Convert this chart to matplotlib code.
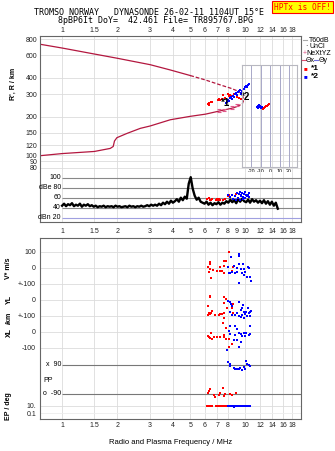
import numpy as np
import matplotlib
matplotlib.use("Agg")
import matplotlib.pyplot as plt
from matplotlib.lines import Line2D

W, H = 335, 451
plt.rcParams['font.family'] = ['Liberation Sans', 'DejaVu Sans']
plt.rcParams['axes.unicode_minus'] = False

freq_ticks = [1, 1.5, 2, 3, 4, 5, 6, 7, 8, 10, 12, 14, 16, 18]
freq_ticks_mid = [1, 1.5, 2, 3, 4, 5, 6, 7, 8, 9, 10, 12, 14, 16, 18]
range_ticks = [80, 90, 100, 120, 150, 200, 300, 400, 600, 800]

# model trace (MHz, km)
model_lo_f = [0.75, 1.0, 1.5, 1.83, 1.9, 1.93, 1.99, 2.26, 2.67, 3.02, 3.89, 5.0, 6.05, 7.3, 8.6, 9.0]
model_lo_r = [99, 103, 107, 113, 117, 129, 137, 148, 162, 169, 189, 201, 209, 222, 234, 240]
model_up_f = [0.75, 1.0, 1.5, 2.0, 3.02, 3.89, 5.0]
model_up_r = [735, 685, 615, 570, 508, 462, 418]
model_nose_f = [5.0, 6.05, 7.3, 8.3, 9.0, 9.6, 9.7, 9.75, 9.6, 9.0]
model_nose_r = [418, 386, 353, 333, 318, 300, 283, 266, 251, 240]
nextyz_f = [7.15, 7.6, 8.4, 9.0]
nextyz_r = [222, 225, 236, 246]

# echoes in range
r1_f = [6.25, 6.3, 6.35, 6.45, 6.55, 7.1, 7.2, 7.3, 7.4, 7.55, 7.7, 8.0, 8.1, 8.25, 8.4, 8.7, 9.0, 9.2, 9.4]
r1_r = [250, 256, 248, 260, 262, 268, 274, 270, 276, 294, 280, 300, 292, 297, 288, 300, 286, 280, 272]
r2_f = [7.8, 7.9, 8.0, 8.1, 8.2, 8.3, 8.4, 8.6, 8.7, 8.8, 8.9, 9.0, 9.1, 9.2, 9.3, 9.4, 9.5, 9.6,
        9.8, 10.0, 10.1, 10.2, 10.3, 10.5]
r2_r = [255, 262, 270, 265, 278, 285, 275, 290, 285, 298, 305, 295, 312, 318, 322, 308, 300, 315,
        330, 338, 345, 340, 350, 358]

# tilt inset
tilt1 = [-8, -6, -5, -4, -3, -2, -1]
tilt1_r = [228, 232, 235, 238, 241, 244, 247]
tilt2 = [-14, -13, -13, -12, -12, -11, -10, -9]
tilt2_r = [236, 230, 242, 234, 246, 238, 232, 236]

# amplitude (dB), sounding from 1 to 15 MHz
amp_db = [44, 48, 43, 47, 45, 49, 43, 46, 44, 48, 42, 46, 44, 47, 43, 45,
          42, 44, 41, 43, 42, 44, 41, 43, 42, 43, 41, 44, 42, 43, 41, 42,
          43, 41, 44, 42, 43, 41, 43, 42, 44, 42, 43, 45, 43, 46, 44,
          46, 44, 48, 45, 50, 47, 52, 48, 54, 50,
          53, 57, 52, 60, 55, 62, 58,
          88, 101, 78,
          64, 56, 60, 52, 50,
          48, 52, 46, 50, 45, 49, 47, 51, 46, 50, 48, 53,
          50, 56, 51, 55, 49, 57, 52, 58, 53,
          51, 56, 50, 57, 52, 55, 50,
          54, 49, 55, 48, 53, 46, 52, 44, 50, 38]
amp1_f = [6.2, 6.3, 6.4, 6.5, 6.6, 6.9, 7.0, 7.1, 7.2, 7.3, 7.5, 7.7, 8.0, 8.1, 8.6, 8.9]
amp1_db = [57, 59, 56, 55, 57, 55, 58, 56, 57, 55, 56, 57, 63, 66, 58, 67]
amp2_f = [8.0, 8.2, 8.4, 8.6, 8.8, 9.0, 9.1, 9.2, 9.3, 9.4, 9.5, 9.6, 9.7, 9.8, 9.9, 10.0,
          10.1, 10.2, 10.4, 10.5, 8.9, 9.3, 9.7, 10.3]
amp2_db = [66, 62, 65, 58, 64, 70, 60, 68, 72, 64, 66, 70, 62, 68, 72, 60,
           66, 64, 70, 62, 56, 56, 58, 66]

# V* (m/s)
v1_f = [8.11, 6.44, 6.44, 6.22, 6.37, 6.66, 6.30, 7.0, 7.24, 7.46, 7.24, 7.61, 7.78, 7.68, 7.68,
        6.5, 8.57, 8.39, 8.11, 8.46]
v1 = [102, 40, 25, 8, -8, -12, -27, -17, -17, -17, 4, 46, 46, 12, -33, -60, 8, -23, -33, -17]
v2_f = [9.2, 9.2, 8.35, 8.0, 8.64, 9.2, 9.71, 10.3, 9.87, 9.47, 8.94, 8.46, 8.11, 8.82, 9.79,
        10.21, 10.56, 10.65, 9.2, 10.0, 10.43, 9.59, 9.0, 8.28]
v2 = [88, 75, 67, 8, 12, 23, 23, 8, -8, -8, -23, -27, -33, -33, -44, -54, -58, -79, -96, -23,
      -2, -33, -2, -33]
# YL (km)
yl1_f = [6.44, 6.37, 7.68, 7.78, 6.22, 6.58, 6.5, 6.44, 6.30, 7.24, 7.46, 7.68, 6.86, 7.15,
         7.61, 6.22, 7.94, 8.46, 8.57, 7.68, 8.57]
yl1 = [25, 17, 21, 4, -37, -67, -79, -87, -83, -87, -87, -83, -94, -94, -115, -94, -52, -52,
       -83, -17, -25]
yl2_f = [8.0, 8.21, 8.35, 8.46, 9.2, 9.47, 9.79, 10.12, 10.43, 10.56, 10.0, 9.59, 9.2, 8.82,
         8.46, 8.28, 9.71, 9.59, 10.21, 10.56, 9.0, 9.47, 9.87, 10.65, 10.3]
yl2 = [-4, -10, -25, -37, -10, -62, -73, -73, -79, -73, -87, -94, -100, -94, -94, -73, -31,
       -52, -100, -100, -79, -108, -115, -67, -52]
# XL (km)
xl1_f = [6.5, 6.22, 6.37, 6.58, 6.30, 7.0, 7.24, 7.61, 7.68, 7.78, 8.11, 7.55, 7.78, 8.11, 8.46,
         6.71]
xl1 = [-4, -25, -40, -46, -33, -33, -33, -29, -19, -46, -46, 54, 23, -96, -75, -29]
xl2_f = [8.28, 8.11, 8.21, 8.82, 8.94, 9.2, 9.47, 9.79, 10.12, 10.43, 10.56, 9.59, 10.0, 9.0,
         8.64, 9.47, 9.2, 7.94, 8.82, 10.56]
xl2 = [38, 8, -12, 38, 17, -4, -12, -8, -8, -19, -12, -25, -25, -50, -50, -60, -96, -112, -19,
       38]
# PP (deg)
pp1_f = [6.27, 6.32, 6.4, 6.71, 6.85, 7.15, 7.3, 7.55, 7.65, 7.75, 8.27, 8.45, 8.9]
pp1 = [-89, -73, -64, -99, -110, -99, -89, -58, -106, -95, -93, -99, -85]
pp2_f = [8.05, 8.2, 8.27, 8.63, 8.8, 9.0, 9.2, 9.39, 9.6, 9.8, 10.0, 10.1, 10.2, 10.45, 10.55]
pp2 = [107, 93, 80, 66, 59, 62, 59, 66, 56, 75, 62, 112, 93, 87, 78]
# EP (deg)
ep1_f = [6.2, 6.25, 6.3, 6.4, 6.45, 6.5, 6.6, 6.9, 7.0, 7.1, 7.2, 7.35, 7.5, 7.7, 7.9, 8.0]
ep1 = [11, 9, 12, 10, 11, 9, 10, 9, 11, 13, 10, 11, 12, 11, 10, 11]
ep2_f = [8.0, 8.2, 8.4, 8.5, 8.6, 8.7, 8.8, 8.9, 9.0, 9.1, 9.2, 9.3, 9.4, 9.5, 9.6, 9.7, 9.8,
         9.9, 10.0, 10.1, 10.2, 10.3, 10.4, 10.5, 10.6]
ep2 = [10, 11, 9, 8, 10, 7, 9, 11, 10, 8, 9, 12, 10, 9, 11, 10, 13, 9, 10, 11, 9, 12, 10, 11, 13]

RED, BLUE = '#ff0000', '#0000ff'
CURVE = '#b3173f'
GRID = '#dcdcdc'
FRAME = '#666666'
XLIM = (0.753, 20.2)
FS = 5


def box(x0, y0, x1, y1):
    return [x0 / W, 1 - y1 / H, (x1 - x0) / W, (y1 - y0) / H]


def style(a):
    a.set_xscale('log')
    a.set_xlim(*XLIM)
    a.minorticks_off()
    a.tick_params(length=0, labelsize=FS, colors='#222222')
    for s in a.spines.values():
        s.set_color(FRAME)
        s.set_linewidth(0.8)


def dots(a, x, y, c, s=3.2):
    a.scatter(x, y, s=s, marker='s', c=c, linewidths=0, zorder=4)


fig = plt.figure(figsize=(W / 100, H / 100), dpi=100)

# --- range panel
ax = fig.add_axes(box(39.5, 36, 301.5, 172))
style(ax)
ax.set_yscale('log')
ax.set_ylim(74, 850)
ax.minorticks_off()
ax.set_yticks(range_ticks)
ax.set_yticklabels([str(t) for t in range_ticks])
ax.xaxis.tick_top()
ax.set_xticks(freq_ticks)
ax.set_xticklabels([f'{t:g}' for t in freq_ticks])
ax.tick_params(pad=1.5)
ax.grid(True, color=GRID, lw=0.6)
ax.spines['bottom'].set_visible(False)
ax.plot(model_lo_f, model_lo_r, color=CURVE, lw=0.9)
ax.plot(model_up_f, model_up_r, color=CURVE, lw=0.9)
ax.plot(model_nose_f, model_nose_r, color=CURVE, lw=0.9, ls=(0, (3, 1.5)))
ax.errorbar(nextyz_f, nextyz_r, yerr=[np.array(nextyz_r) * 0.025, np.array(nextyz_r) * 0.025],
            fmt='none', ecolor='#e0588a', elinewidth=0.8, capsize=1.2, capthick=0.8)
dots(ax, r1_f, r1_r, RED, 4.5)
dots(ax, r2_f, r2_r, BLUE, 4.5)
ax.text(7.3, 257, '*1', fontsize=7, fontweight='bold', va='center', zorder=5)
ax.text(9.4, 284, '*2', fontsize=7, fontweight='bold', va='center', zorder=5)
fig.text(13 / W, 1 - 84 / H, "R', R / km", rotation=90, fontsize=FS, fontweight='bold',
         ha='center', va='center')

# --- tilt inset
ins = fig.add_axes(box(241.7, 65, 296.7, 167.3))
ins.set_facecolor('none')
ins.set_xlim(-30, 28)
ins.set_yscale('log')
ins.set_ylim(80, 500)
ins.minorticks_off()
ins.set_yticks([])
ins.set_xticks([-20, -10, 0, 10, 20])
ins.tick_params(length=0, labelsize=3.8, pad=1)
for t in [-20, -10, 0, 10, 20]:
    ins.axvline(t, color='#a8a8c8', lw=0.7)
for s in ins.spines.values():
    s.set_color('#b8b8c0')
    s.set_linewidth(0.8)
ins.set_xlabel('Tilt / deg', fontsize=3.8, labelpad=0)
dots(ins, tilt2, tilt2_r, BLUE, 4)
dots(ins, tilt1, tilt1_r, RED, 4)

# --- amplitude panel
amp = fig.add_axes(box(39.5, 172, 301.5, 222))
style(amp)
amp.set_ylim(11.4, 111.4)
amp.set_yticks([])
amp.set_xticks(freq_ticks_mid)
amp.set_xticklabels([f'{t:g}' for t in freq_ticks_mid])
amp.tick_params(pad=4)
amp.spines['top'].set_visible(False)
for t in freq_ticks:
    amp.axvline(t, color=GRID, lw=0.6, zorder=0)
for lvl, lab in [(100, '100'), (80, 'dBe 80'), (60, '60'), (40, '40')]:
    amp.hlines(lvl, 1.0, XLIM[1], color='#888888', lw=0.8, zorder=1)
    amp.text(0.082, lvl, lab, transform=amp.get_yaxis_transform(), ha='right', va='center',
             fontsize=FS)
amp.hlines(20, 1.0, XLIM[1], color='#a0a0e0', lw=0.8, zorder=1)
amp.text(0.082, 20, 'dBn 20', transform=amp.get_yaxis_transform(), ha='right', va='center',
         fontsize=FS)
amp_f = np.geomspace(1.0, 15.0, len(amp_db))
amp.plot(amp_f, amp_db, color='black', lw=1.7, zorder=3)
dots(amp, amp1_f, amp1_db, RED)
dots(amp, amp2_f, amp2_db, BLUE)

# --- wave-vector panel
low = fig.add_axes(box(39.5, 238, 301.5, 419))
style(low)
low.set_ylim(0, 181 / 16)
low.set_xticks(freq_ticks)
low.set_xticklabels([f'{t:g}' for t in freq_ticks])
low.tick_params(pad=2)
for t in freq_ticks:
    low.axvline(t, color=GRID, lw=0.6, zorder=0)

V0, YL0, XL0 = 9.4375, 7.4375, 5.4375


def pp_u(p):
    return 3.406 - (90 - np.asarray(p)) * 0.01007


def ep_u(e):
    return (13 + 3.5 * np.log10(np.asarray(e) / 10)) / 16


rows = [V0 + 1, V0, YL0 + 1, YL0, XL0 + 1, XL0, XL0 - 1]
for u in rows:
    low.axhline(u, color=GRID, lw=0.6, zorder=0)
low.axhline(float(ep_u(10)), color=GRID, lw=0.6, zorder=0)
low.axhline(float(ep_u(0.1)), color='#ececec', lw=0.6, zorder=0)
low.hlines([float(pp_u(90)), float(pp_u(-90))], 1.0, XLIM[1], color='#777777', lw=0.8, zorder=1)
low.set_yticks(rows + [float(ep_u(10)), float(ep_u(0.1))])
low.set_yticklabels(['100', '0', '+-100', '0', '+-100', '0', '-100', '10.', '0.1'])
low.tick_params(axis='y', pad=2.5)
ytr = low.get_yaxis_transform()
low.text(0.082, float(pp_u(90)), 'x  90', transform=ytr, ha='right', va='center', fontsize=FS)
low.text(0.082, float(pp_u(-90)), 'o  -90', transform=ytr, ha='right', va='center', fontsize=FS)
low.text(0.013, float(pp_u(0)) - 0.1, 'PP', transform=ytr, ha='left', va='center', fontsize=FS)

dots(low, v1_f, V0 + np.array(v1) / 100, RED)
dots(low, v2_f, V0 + np.array(v2) / 100, BLUE)
dots(low, yl1_f, YL0 + np.array(yl1) / 100, RED)
dots(low, yl2_f, YL0 + np.array(yl2) / 100, BLUE)
dots(low, xl1_f, XL0 + np.array(xl1) / 100, RED)
dots(low, xl2_f, XL0 + np.array(xl2) / 100, BLUE)
dots(low, pp1_f, pp_u(pp1), RED)
dots(low, pp2_f, pp_u(pp2), BLUE)
dots(low, ep1_f, ep_u(ep1), RED)
dots(low, ep2_f, ep_u(ep2), BLUE)
low.set_xlabel('Radio and Plasma Frequency / MHz', fontsize=FS + 0.5, labelpad=7)

for txt, yc in [('V* m/s', 268), ('YL', 300), ('/km', 318), ('XL', 333), ('EP / deg', 406)]:
    fig.text(9 / W, 1 - yc / H, txt, rotation=90, fontsize=FS, fontweight='bold',
             ha='center', va='center')

# --- legend (outside right)
LFS = 5


def leg_line(x0, x1, yc, col):
    fig.add_artist(Line2D([x0 / W, x1 / W], [1 - yc / H, 1 - yc / H], color=col, lw=0.8,
                          transform=fig.transFigure))


def leg_text(x, yc, s, **kw):
    fig.text(x / W, 1 - yc / H, s, fontsize=kw.pop('fontsize', LFS), va='center', **kw)


leg_line(302.5, 307, 40, '#aaaaaa')
leg_text(309, 40, 'T60dB')
leg_text(305, 46.7, '·', color='black')
leg_text(309, 46.7, 'UnCl')
leg_text(302.5, 53.3, '+', color='#e0588a')
leg_text(306.5, 53.3, 'NeXtYZ')
leg_line(302, 305.5, 60, '#e05070')
leg_text(306, 60, 'Θx')
leg_line(314, 318, 60, '#7070e0')
leg_text(319, 60, 'Θy')
leg_text(304, 68.3, '■', color=RED, fontsize=4.4)
leg_text(311, 68.3, '*1', fontsize=6, fontweight='bold')
leg_text(304, 76.7, '■', color=BLUE, fontsize=4.4)
leg_text(311, 76.7, '*2', fontsize=6, fontweight='bold')

# --- header
fig.text(149 / W, 1 - 12.7 / H, 'TROMSO NORWAY   DYNASONDE 26-02-11 1104UT 15°E',
         family='DejaVu Sans Mono', fontsize=6, ha='center', va='center')
fig.text(156 / W, 1 - 20.3 / H, '8pBP6It DoY=  42.461 File= TR895767.BPG',
         family='DejaVu Sans Mono', fontsize=6, ha='center', va='center')
fig.text(302.5 / W, 1 - 7 / H, 'HPTx is OFF!', family='DejaVu Sans Mono', fontsize=5.7,
         color='red', ha='center', va='center',
         bbox=dict(boxstyle='square,pad=0.25', facecolor='#ffff00', edgecolor='red', lw=0.8))

fig.savefig('out.png', dpi=100)
